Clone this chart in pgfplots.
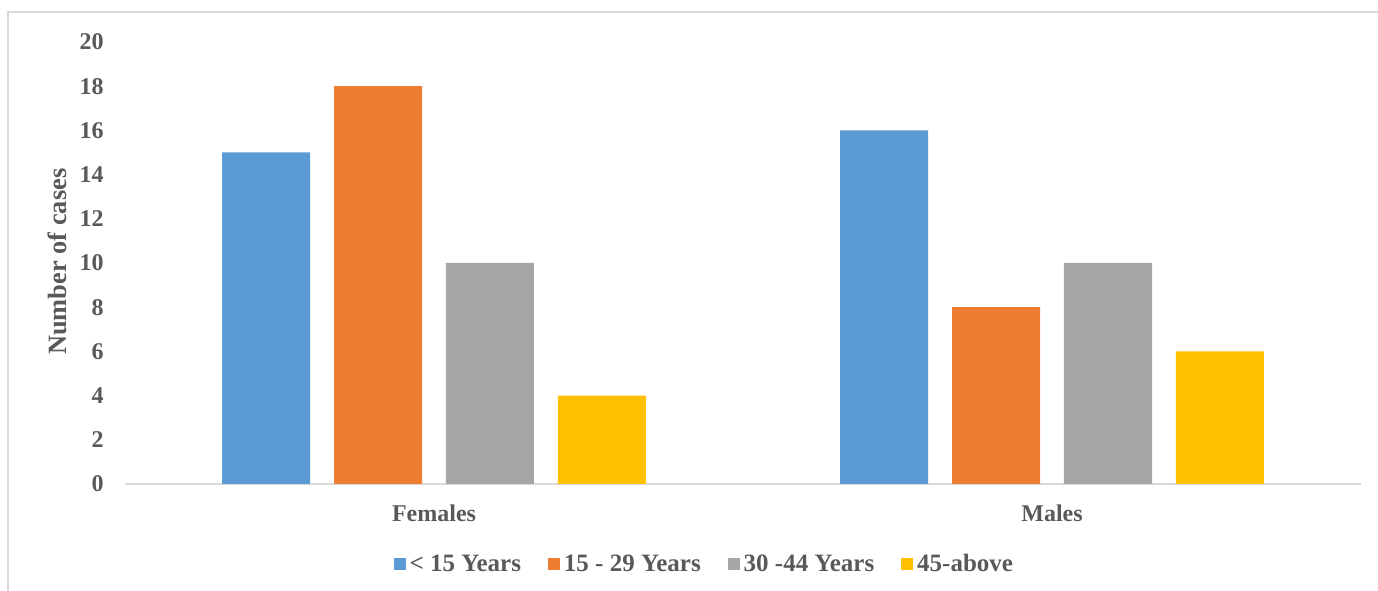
\documentclass[border=0pt]{standalone}
\usepackage{pgfplots}
\pgfplotsset{compat=1.18}
\usepackage{fontspec}
\setmainfont{Liberation Serif}
\definecolor{cblue}{HTML}{5B9BD5}
\definecolor{corange}{HTML}{ED7D31}
\definecolor{cgray}{HTML}{A5A5A5}
\definecolor{cyellow}{HTML}{FFC000}
\definecolor{ctext}{HTML}{595959}
\definecolor{cline}{HTML}{D9D9D9}
\begin{document}
\begin{tikzpicture}
\useasboundingbox (-62.5bp,-53.5bp) rectangle (626.5bp,242bp);
\draw[cline, line width=0.9bp] (-58.5bp,-60bp) -- (-58.5bp,236bp) -- (640bp,236bp);
\begin{axis}[
  at={(0,0)}, anchor=south west,
  scale only axis, width=618bp, height=221bp,
  xmin=-0.5, xmax=1.5, ymin=0, ymax=20,
  ybar, bar width=0.1424,
  xtick={0,1}, xticklabels={Females,Males},
  ytick={0,2,...,20},
  axis x line*=bottom, axis y line*=left,
  x axis line style={draw=cline, line width=0.75bp},
  y axis line style={draw=none},
  major tick length=0pt,
  /pgf/number format/assume math mode=true,
  ticklabel style={font=\bfseries\fontsize{12bp}{14bp}\selectfont, text=ctext},
  yticklabel style={inner sep=0pt, anchor=east, xshift=-10.5bp},
  xticklabel style={inner sep=0pt, anchor=north, yshift=-10bp},
  ylabel={Number of cases},
  ylabel style={font=\bfseries\fontsize{13.2bp}{15bp}\selectfont, text=ctext, at={(axis description cs:-0.055,0.503)}, anchor=center},
  legend columns=4,
  legend style={draw=none, fill=none, at={(axis description cs:0.4695,-0.182)}, anchor=center,
    font=\bfseries\fontsize{12.5bp}{14bp}\selectfont, text=ctext,
    /tikz/every even column/.append style={column sep=11.5bp}},
  legend image code/.code={\fill[#1, draw=none] (0bp,-3bp) rectangle (6bp,3bp);},
]
\addplot[fill=cblue, draw=none, bar shift=-0.2718] coordinates {(0,15) (1,16)};
\addplot[fill=corange, draw=none, bar shift=-0.0906] coordinates {(0,18) (1,8)};
\addplot[fill=cgray, draw=none, bar shift=0.0906] coordinates {(0,10) (1,10)};
\addplot[fill=cyellow, draw=none, bar shift=0.2718] coordinates {(0,4) (1,6)};
\legend{{< 15 Years},{15 - 29 Years},{30 -44 Years},{45-above}}
\end{axis}
\end{tikzpicture}
\end{document}
